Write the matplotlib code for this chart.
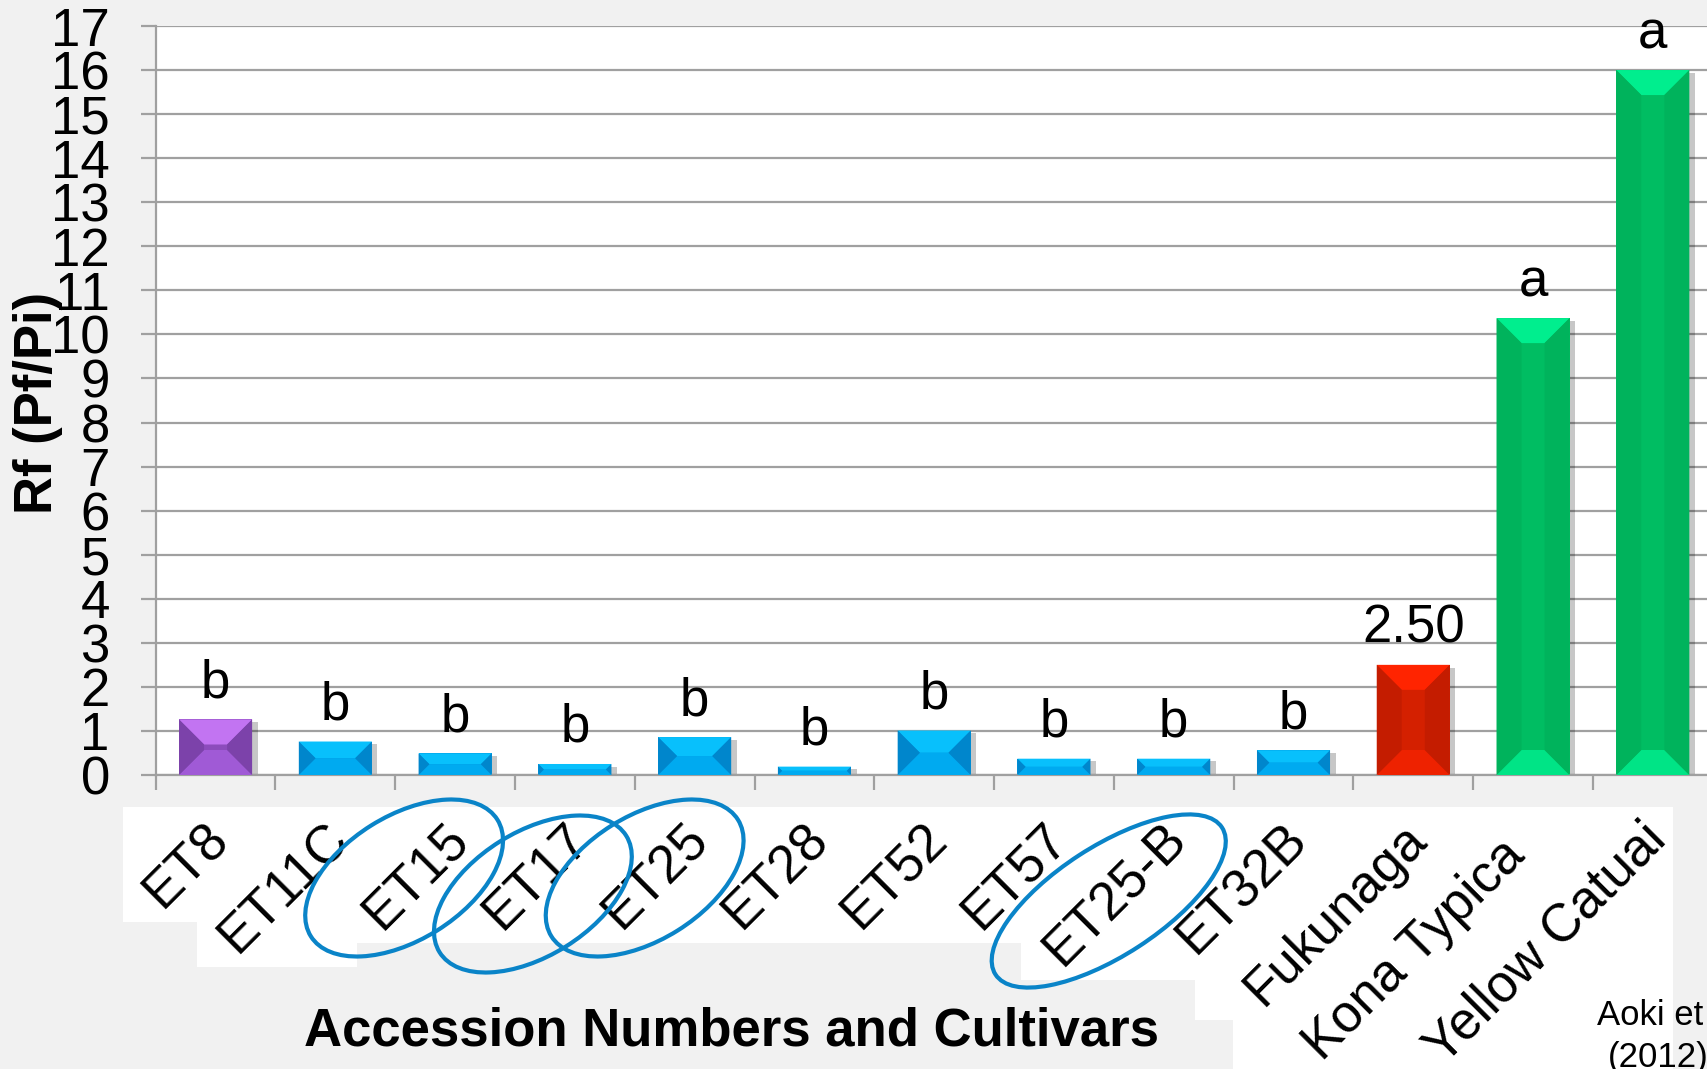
import matplotlib
matplotlib.use('Agg')
import matplotlib.pyplot as plt
import matplotlib.patheffects as pe
from matplotlib.patches import Ellipse, Rectangle
from matplotlib.transforms import ScaledTranslation
import numpy as np

plt.rcParams['font.family'] = ['Liberation Sans', 'DejaVu Sans']

# dados
acessos = ['ET8', 'ET11C', 'ET15', 'ET17', 'ET25', 'ET28', 'ET52', 'ET57',
           'ET25-B', 'ET32B', 'Fukunaga', 'Kona Typica', 'Yellow Catuai']
rf = [1.26, 0.76, 0.49, 0.25, 0.86, 0.19, 1.01, 0.37, 0.37, 0.56, 2.50, 10.37, 16.0]
letras = ['b'] * 10 + ['2.50', 'a', 'a']
grupos = ['roxo'] + ['azul'] * 9 + ['vermelho', 'verde', 'verde']
circulados = ['ET15', 'ET17', 'ET25', 'ET25-B']

# cores: meio, topo, base, lados
cores = {
    'roxo': ('#8c4cbc', '#c274f2', '#a05ad6', '#7c42aa'),
    'azul': ('#0098e0', '#08c0fc', '#00aaf0', '#0086cc'),
    'vermelho': ('#d42000', '#ff2400', '#ee2200', '#c41c00'),
    'verde': ('#00bd62', '#00ee8e', '#00e486', '#00b35c'),
}

W, H, DPI = 1707, 1069, 100
cinza = '#a0a0a0'

fig = plt.figure(figsize=(W / DPI, H / DPI), dpi=DPI, facecolor='#f1f1f1')
ax = fig.add_axes([155.7 / W, 294 / H, 1557 / W, 749 / H])
ax.set_facecolor('white')

# retângulos brancos atrás dos rótulos (como no slide original)
fundos = [(123, 807, 197, 922), (197, 807, 357, 967), (357, 807, 1021, 943),
          (1021, 807, 1195, 980), (1195, 807, 1233, 1020), (1233, 807, 1673, 1069)]
for x0, y0, x1, y1 in fundos:
    fig.add_artist(Rectangle((x0 / DPI, (H - y1) / DPI), (x1 - x0) / DPI, (y1 - y0) / DPI,
                             transform=fig.dpi_scale_trans, fc='white', ec='none', zorder=-1))

ax.set_xlim(-0.5, 12.5)
ax.set_ylim(0, 17)

x = np.arange(len(acessos))
larg = 0.61
barras = ax.bar(x, rf, width=larg, color=[cores[g][0] for g in grupos], zorder=2)
for b in barras:
    b.set_path_effects([pe.SimplePatchShadow(offset=(4, -2), shadow_rgbFace='k', alpha=0.22),
                        pe.Normal()])

# efeito chanfrado das barras
px_x = 1557 / 13
px_y = 749 / 17
for xi, v, g in zip(x, rf, grupos):
    meio, topo, base, lado = cores[g]
    d = min(25, v * px_y / 2)
    dx, dy = d / px_x, d / px_y
    L, R = xi - larg / 2, xi + larg / 2
    ax.fill([L, R, R - dx, L + dx], [v, v, v - dy, v - dy], color=topo, lw=0, zorder=3)
    ax.fill([L, R, R - dx, L + dx], [0, 0, dy, dy], color=base, lw=0, zorder=3)
    ax.fill([L, L + dx, L + dx, L], [0, dy, v - dy, v], color=lado, lw=0, zorder=3)
    ax.fill([R, R - dx, R - dx, R], [0, dy, v - dy, v], color=lado, lw=0, zorder=3)

for xi, v, t in zip(x, rf, letras):
    ax.text(xi, v + 0.5, t, ha='center', va='baseline', fontsize=38, zorder=4)

# eixos
ax.set_axisbelow(True)
ax.yaxis.grid(True, color=cinza, lw=1.6)
for s in ['top', 'right']:
    ax.spines[s].set_visible(False)
for s in ['left', 'bottom']:
    ax.spines[s].set_color(cinza)
    ax.spines[s].set_linewidth(1.6)

ax.set_yticks(range(18))
ax.tick_params(axis='y', length=11, width=1.6, color=cinza, pad=22, labelsize=38)

ax.set_xticks(x)
ax.set_xticklabels(acessos, rotation=45, ha='right', va='top', rotation_mode='anchor', fontsize=38)
ax.set_xticks(np.arange(-0.5, 13, 1), minor=True)
ax.tick_params(axis='x', which='major', length=0, pad=28)
ax.tick_params(axis='x', which='minor', length=11, width=1.6, color=cinza)
ajuste = {'Kona Typica': (-0.22, -0.16)}
for lab in ax.get_xticklabels():
    ox, oy = ajuste.get(lab.get_text(), (0, 0))
    lab.set_transform(lab.get_transform() + ScaledTranslation(-0.12 + ox, oy, fig.dpi_scale_trans))

ax.set_ylabel('Rf (Pf/Pi)', fontsize=38, fontweight='bold', va='center')
ax.yaxis.set_label_coords(-0.0756, 0.497)
ax.set_xlabel('Accession Numbers and Cultivars', fontsize=38, fontweight='bold', va='center')
ax.xaxis.set_label_coords(0.370, -0.342)

# elipses azuis em volta dos acessos destacados
elipses = {'ET15': (-51, -103, 220, 124, 32), 'ET17': (-42, -119, 220, 124, 32),
           'ET25': (-50, -103, 220, 124, 32), 'ET25-B': (-65, -126, 270, 109, 33)}
for nome in circulados:
    ox, oy, ew, eh, ang = elipses[nome]
    px, py = ax.transData.transform((acessos.index(nome), 0))
    fig.add_artist(Ellipse(((px + ox) / DPI, (py + oy) / DPI), ew / DPI, eh / DPI, angle=ang,
                           transform=fig.dpi_scale_trans, fill=False, ec='#0a84c8', lw=3.0, zorder=5))

fig.text(1597 / W, 44 / H, 'Aoki et', fontsize=25, ha='left', va='baseline')
fig.text(1608 / W, 2 / H, '(2012)', fontsize=25, ha='left', va='baseline')

fig.savefig('out.png', dpi=DPI, facecolor=fig.get_facecolor())
